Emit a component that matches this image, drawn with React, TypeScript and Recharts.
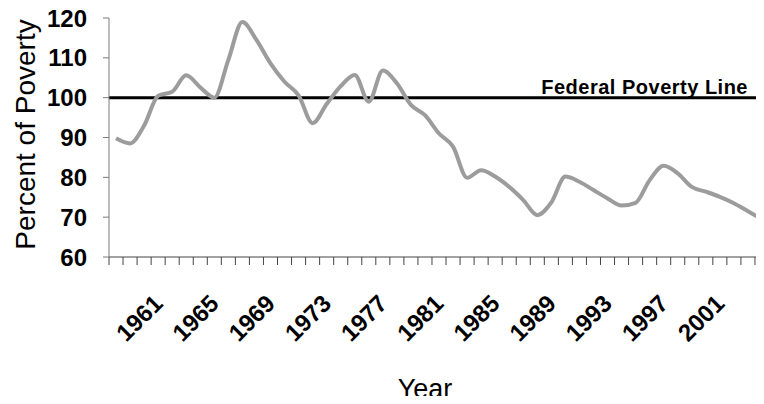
import React from 'react';
import { LineChart, Line, XAxis, YAxis, ReferenceLine, Label } from 'recharts';

// minimum wage as a share of the poverty line
const years = [
  1959, 1960, 1961, 1962, 1963, 1964, 1965, 1966, 1967, 1968, 1969, 1970,
  1971, 1972, 1973, 1974, 1975, 1976, 1977, 1978, 1979, 1980, 1981, 1982,
  1983, 1984, 1985, 1986, 1987, 1988, 1989, 1990, 1991, 1992, 1993, 1994,
  1995, 1996, 1997, 1998, 1999, 2000, 2001, 2002, 2003, 2004, 2005,
];
const percentOfPoverty = [
  89.8, 88.5, 93, 100.5, 101.5, 105.6, 102.6, 100, 109.5, 119, 114.5, 108.6,
  104, 100.6, 93.6, 98.4, 102.9, 105.7, 99, 106.8, 103.6, 98.2, 95.6, 91,
  87.7, 79.9, 81.8, 80.2, 77.6, 74.3, 70.5, 73.7, 80.2, 78.9, 76.8, 74.7,
  72.9, 73.6, 79.3, 82.9, 81, 77.6, 76.4, 75.1, 73.5, 71.5, 69.5,
];
const labelYears = [1961, 1965, 1969, 1973, 1977, 1981, 1985, 1989, 1993, 1997, 2001];
const yTicks = [60, 70, 80, 90, 100, 110, 120];
const povertyLine = 100;

const data = years.map((year, i) => ({ year, value: percentOfPoverty[i] }));
// tick marks sit between the years, like the spreadsheet original
const boundaries = [...years.map((y) => y - 0.5), years[years.length - 1] + 0.5];

const FONT = '"Liberation Sans", Arial, sans-serif';

const YearTick = ({ x, y, payload }: any) => {
  const year = payload.value - 0.5;
  if (!labelYears.includes(year)) return null;
  const ax = x + 13;
  const ay = y + 38;
  return (
    <text
      x={ax}
      y={ay}
      transform={`rotate(-45 ${ax} ${ay})`}
      textAnchor="end"
      fontFamily={FONT}
      fontSize={24}
      fontWeight="bold"
      fill="#000"
    >
      {year}
    </text>
  );
};

export default function App() {
  return (
    <div style={{ margin: -8, width: 764, height: 404, overflow: 'hidden', background: '#fff' }}>
      <LineChart
        width={780}
        height={404}
        data={data}
        margin={{ top: 18, right: 11, bottom: 0, left: 0 }}
        style={{ fontFamily: FONT }}
      >
        <XAxis
          dataKey="year"
          type="number"
          domain={[boundaries[0], boundaries[boundaries.length - 1]]}
          ticks={boundaries}
          interval={0}
          height={147}
          tickSize={8}
          axisLine={{ stroke: '#444' }}
          tickLine={{ stroke: '#444' }}
          tick={YearTick}
        >
          <Label
            content={({ viewBox }: any) => (
              <text
                x={viewBox.x + viewBox.width / 2 - 14}
                y={viewBox.y + viewBox.height - 6}
                textAnchor="middle"
                fontFamily={FONT}
                fontSize={27}
                fill="#000"
              >
                Year
              </text>
            )}
          />
        </XAxis>
        <YAxis
          domain={[60, 120]}
          ticks={yTicks}
          interval={0}
          width={109}
          tickSize={6}
          tickMargin={16}
          axisLine={{ stroke: '#7a7a7a' }}
          tickLine={{ stroke: '#7a7a7a' }}
          tick={{ fill: '#000', fontSize: 24, fontWeight: 'bold', fontFamily: FONT }}
        >
          <Label
            content={({ viewBox }: any) => {
              const cx = viewBox.x + 25;
              const cy = viewBox.y + viewBox.height / 2 - 3;
              return (
                <text
                  x={cx}
                  y={cy}
                  transform={`rotate(-90 ${cx} ${cy})`}
                  textAnchor="middle"
                  dominantBaseline="central"
                  fontFamily={FONT}
                  fontSize={28}
                  fill="#000"
                >
                  Percent of Poverty
                </text>
              );
            }}
          />
        </YAxis>
        <ReferenceLine
          y={povertyLine}
          stroke="#000"
          strokeWidth={3}
          label={({ viewBox }: any) => (
            <text
              x={viewBox.x + viewBox.width - 21}
              y={viewBox.y - 4}
              textAnchor="end"
              fontFamily={FONT}
              fontSize={20}
              fontWeight="bold"
              letterSpacing={0.5}
              fill="#000"
            >
              Federal Poverty Line
            </text>
          )}
        />
        <Line
          type="monotone"
          dataKey="value"
          stroke="#9c9c9c"
          strokeWidth={4}
          dot={false}
          isAnimationActive={false}
        />
      </LineChart>
    </div>
  );
}
